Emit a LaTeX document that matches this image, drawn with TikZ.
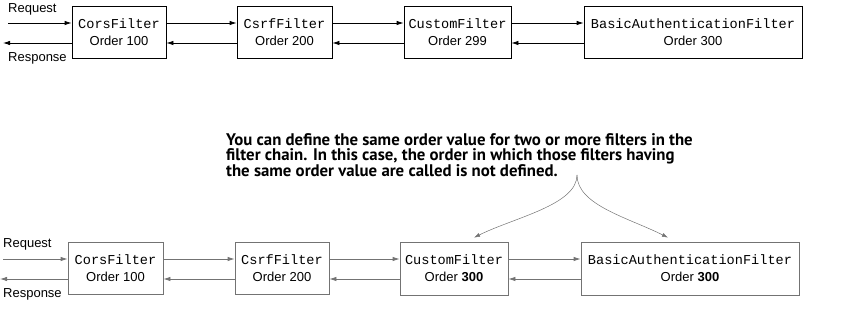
\documentclass[tikz,border=0pt]{standalone}
\usepackage{fontspec}
\setmainfont{Liberation Sans}
\setmonofont{Liberation Mono}
\newfontfamily\notefont{PT Sans}
\usetikzlibrary{arrows.meta}
\newcommand{\fname}[1]{{\fontsize{13.6}{17}\ttfamily #1}}

\begin{document}
\begin{tikzpicture}[x=1pt, y=-1pt,
        filterbox/.style={draw, line width=0.8pt, minimum height=52pt, inner sep=0pt,
            align=center, font=\fontsize{13}{17}\selectfont},
        flow/.style={line width=0.8pt, -{Latex[length=7pt, width=4.5pt]}},
        lbl/.style={anchor=west, inner sep=0pt, font=\fontsize{13}{15}\selectfont},
        faded/.style={draw=black!55},
        note/.style={draw=black!55, line width=0.5pt, -{Latex[length=6pt, width=4pt]}}]
    \useasboundingbox (0,0) rectangle (850,328);
    \node[filterbox, minimum width=94pt]  (cors)   at (119,32.5)   {\fname{CorsFilter}\\Order 100};
    \node[filterbox, minimum width=95pt]  (csrf)   at (284.5,32.5) {\fname{CsrfFilter}\\Order 200};
    \node[filterbox, minimum width=107pt] (custom) at (457.5,32.5) {\fname{CustomFilter}\\Order 299};
    \node[filterbox, minimum width=218pt] (basic)  at (693,32.5)   {\fname{BasicAuthenticationFilter}\\Order 300};
    \coordinate (reqin)  at (8,23);
    \coordinate (resout) at (3,43);
    \node[lbl] (req)  at (8,9)  {Request};
    \node[lbl] (resp) at (8,58) {Response};
    \draw[flow] (reqin) -- ([yshift=9.5pt]cors.west);
    \draw[flow] ([yshift=9.5pt]cors.east) -- ([yshift=9.5pt]csrf.west);
    \draw[flow] ([yshift=9.5pt]csrf.east) -- ([yshift=9.5pt]custom.west);
    \draw[flow] ([yshift=9.5pt]custom.east) -- ([yshift=9.5pt]basic.west);
    \draw[flow] ([yshift=-10.5pt]basic.west) -- ([yshift=-10.5pt]custom.east);
    \draw[flow] ([yshift=-10.5pt]custom.west) -- ([yshift=-10.5pt]csrf.east);
    \draw[flow] ([yshift=-10.5pt]csrf.west) -- ([yshift=-10.5pt]cors.east);
    \draw[flow] ([yshift=-10.5pt]cors.west) -- (resout);

    \node[anchor=north west, inner sep=0pt, align=left,
        font=\notefont\bfseries\fontsize{16.8}{15.2}\selectfont] (remark) at (226,133)
        {You can define the same order value for two or more filters in the\\
         filter chain. In this case, the order in which those filters having\\
         the same order value are called is not defined.};

    \node[filterbox, faded, minimum width=95pt]  (cors2)   at (115.5,268.5) {\fname{CorsFilter}\\Order 100};
    \node[filterbox, faded, minimum width=94pt]  (csrf2)   at (282,268.5)   {\fname{CsrfFilter}\\Order 200};
    \node[filterbox, faded, minimum width=108pt, minimum height=53pt] (custom2) at (454,268.5)
        {\fname{CustomFilter}\\Order \textbf{300}};
    \node[filterbox, faded, minimum width=218pt, minimum height=53pt] (basic2)  at (690,268.5)
        {\fname{BasicAuthenticationFilter}\\Order \textbf{300}};
    \coordinate (reqin2)  at (3,259);
    \coordinate (resout2) at (0,279);
    \node[lbl] (req2)  at (3,244) {Request};
    \node[lbl] (resp2) at (3,294) {Response};
    \draw[flow, black!55] (reqin2) -- ([yshift=9.5pt]cors2.west);
    \draw[flow, black!55] ([yshift=9.5pt]cors2.east) -- ([yshift=9.5pt]csrf2.west);
    \draw[flow, black!55] ([yshift=9.5pt]csrf2.east) -- ([yshift=9.5pt]custom2.west);
    \draw[flow, black!55] ([yshift=9.5pt]custom2.east) -- ([yshift=9.5pt]basic2.west);
    \draw[flow, black!55] ([yshift=-10.5pt]basic2.west) -- ([yshift=-10.5pt]custom2.east);
    \draw[flow, black!55] ([yshift=-10.5pt]custom2.west) -- ([yshift=-10.5pt]csrf2.east);
    \draw[flow, black!55] ([yshift=-10.5pt]csrf2.west) -- ([yshift=-10.5pt]cors2.east);
    \draw[flow, black!55] ([yshift=-10.5pt]cors2.west) -- (resout2);

    \coordinate (split) at (577,175);
    \draw[note] (split) .. controls +(0,30) and +(40,-20) .. ([shift={(20pt,4pt)}]custom2.north);
    \draw[note] (split) .. controls +(0,30) and +(-40,-20) .. ([shift={(-22pt,4pt)}]basic2.north);
\end{tikzpicture}
\end{document}
